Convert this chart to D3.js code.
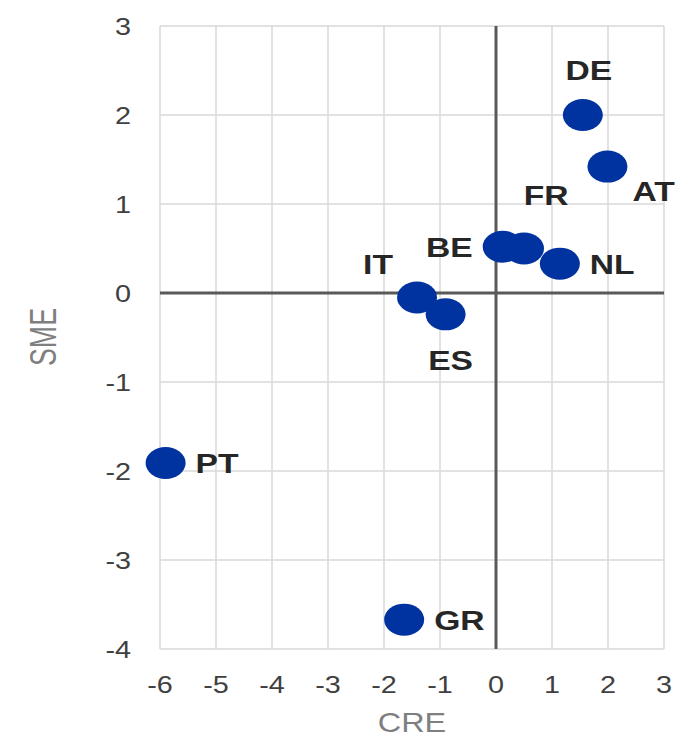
<!DOCTYPE html>
<html><head><meta charset="utf-8">
<script src="https://cdn.jsdelivr.net/npm/d3@7"></script>
<style>body{margin:0;background:#fff}svg{display:block}</style>
</head><body>
<script>
const countries = ["DE","AT","FR","BE","NL","IT","ES","PT","GR"];
const creValues = [1.55, 1.99, 0.50, 0.12, 1.14, -1.41, -0.90, -5.90, -1.64];
const smeValues = [2.00, 1.42, 0.50, 0.52, 0.33, -0.05, -0.24, -1.91, -3.67];
const labelSide = ["above","belowright","aboveright","left","right","aboveleft","below","right","right"];
const xTicks = [-6,-5,-4,-3,-2,-1,0,1,2,3];
const yTicks = [3,2,1,0,-1,-2,-3,-4];
const xTitle = "CRE", yTitle = "SME";

const W = 676, H = 738, SX = 1.2;
const svg = d3.select("body").append("svg").attr("width", W).attr("height", H);
const x = d3.scaleLinear().domain([-6, 3]).range([160, 664]);
const y = d3.scaleLinear().domain([-4, 3]).range([649, 26]);

// grid
svg.append("g").selectAll("line").data(xTicks).join("line")
  .attr("x1", d => x(d)).attr("x2", d => x(d)).attr("y1", y(3)).attr("y2", y(-4))
  .attr("stroke", "#d9d9d9").attr("stroke-width", 1.5);
svg.append("g").selectAll("line").data(yTicks).join("line")
  .attr("y1", d => y(d)).attr("y2", d => y(d)).attr("x1", x(-6)).attr("x2", x(3))
  .attr("stroke", "#d9d9d9").attr("stroke-width", 1.5);
// zero axes
svg.append("line").attr("x1", x(-6)).attr("x2", x(3)).attr("y1", y(0)).attr("y2", y(0))
  .attr("stroke", "#595959").attr("stroke-width", 3);
svg.append("line").attr("x1", x(0)).attr("x2", x(0)).attr("y1", y(3)).attr("y2", y(-4))
  .attr("stroke", "#595959").attr("stroke-width", 3);

// tick labels
const tickFont = "'Liberation Sans', Arial, sans-serif";
svg.append("g").selectAll("text").data(xTicks).join("text")
  .attr("transform", d => `translate(${x(d)},693) scale(${SX},1)`)
  .attr("text-anchor", "middle").attr("font-family", tickFont).attr("font-size", 24)
  .attr("fill", "#404040").text(d => d);
svg.append("g").selectAll("text").data(yTicks).join("text")
  .attr("transform", d => `translate(131,${y(d)}) scale(${SX},1)`)
  .attr("text-anchor", "end").attr("dy", "0.36em").attr("font-family", tickFont).attr("font-size", 24)
  .attr("fill", "#404040").text(d => d);

// axis titles
svg.append("text").attr("transform", `translate(${(x(-6)+x(3))/2},732) scale(${SX},1)`)
  .attr("text-anchor", "middle").attr("font-family", tickFont).attr("font-size", 27)
  .attr("fill", "#7f7f7f").text(xTitle);
svg.append("text").attr("transform", `translate(56,337) scale(${SX},1) rotate(-90)`)
  .attr("text-anchor", "middle").attr("font-family", tickFont).attr("font-size", 30)
  .attr("textLength", 58).attr("lengthAdjust", "spacingAndGlyphs")
  .attr("fill", "#7f7f7f").text(yTitle);

// points
const pts = countries.map((c, i) => ({c, cx: x(creValues[i]), cy: y(smeValues[i]), side: labelSide[i]}));
svg.append("g").selectAll("ellipse").data(pts).join("ellipse")
  .attr("cx", d => d.cx).attr("cy", d => d.cy).attr("rx", 20).attr("ry", 16)
  .attr("fill", "#0033a0");

const off = {
  above: [6, -35, "middle"],
  belowright: [25, 34, "start"],
  aboveright: [22, -44, "middle"],
  left: [-30, 10, "end"],
  right: [30, 10, "start"],
  aboveleft: [-39, -23, "middle"],
  below: [5, 56, "middle"]
};
svg.append("g").selectAll("text").data(pts).join("text")
  .attr("transform", d => `translate(${d.cx + off[d.side][0]},${d.cy + off[d.side][1]}) scale(${SX},1)`)
  .attr("text-anchor", d => off[d.side][2])
  .attr("font-family", tickFont).attr("font-weight", "bold").attr("font-size", 28)
  .attr("fill", "#262626").text(d => d.c);
</script>
</body></html>
